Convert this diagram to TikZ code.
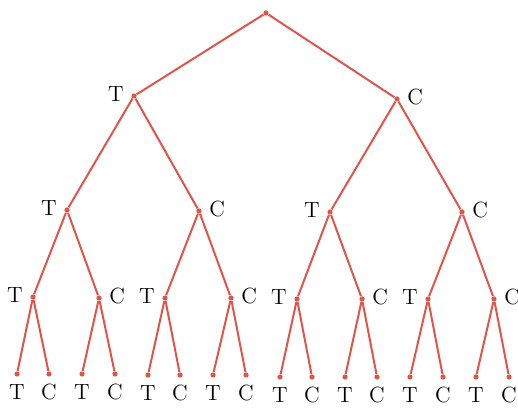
\documentclass[tikz,border=0pt]{standalone}
\usepackage{tikz}
\usetikzlibrary{positioning}
\definecolor{treered}{RGB}{224,84,74}

\begin{document}
\begin{tikzpicture}[
    x=0.5pt, y=-0.5pt,
    dot/.style={circle, fill=treered, inner sep=0pt, minimum size=2.6pt},
    edge/.style={draw=treered, line width=1pt},
    every label/.style={font=\fontsize{11}{13}\selectfont, inner sep=3.5pt},
]
    \useasboundingbox (0,0) rectangle (518,410);

    % Root
    \node[dot] (r) at (266,13) {};

    % First toss
    \node[dot, label={[yshift=1pt]left:T}]  (t) at (134,96) {};
    \node[dot, label={[yshift=1pt]right:C}] (c) at (397,99) {};

    % Second toss
    \node[dot, label={[yshift=1pt]left:T}]  (tt) at (67,210) {};
    \node[dot, label={[yshift=1pt]right:C}] (tc) at (199,211) {};
    \node[dot, label={[yshift=1pt]left:T}]  (ct) at (330,212) {};
    \node[dot, label={[yshift=1pt]right:C}] (cc) at (462,212) {};

    % Third toss
    \node[dot, label={[yshift=1pt]left:T}]  (ttt) at (33,297) {};
    \node[dot, label={[yshift=1pt]right:C}] (ttc) at (99,298) {};
    \node[dot, label={[yshift=1pt]left:T}]  (tct) at (165,298) {};
    \node[dot, label={[yshift=1pt]right:C}] (tcc) at (231,298) {};
    \node[dot, label={[yshift=1pt]left:T}]  (ctt) at (297,299) {};
    \node[dot, label={[yshift=1pt]right:C}] (ctc) at (362,299) {};
    \node[dot, label={[yshift=1pt]left:T}]  (cct) at (428,299) {};
    \node[dot, label={[yshift=1pt]right:C}] (ccc) at (494,299) {};

    % Fourth toss (leaves)
    \node[dot, label=below:T] (tttt) at (17,374) {};
    \node[dot, label=below:C] (tttc) at (49,374) {};
    \node[dot, label=below:T] (ttct) at (82,374) {};
    \node[dot, label=below:C] (ttcc) at (115,374) {};
    \node[dot, label=below:T] (tctt) at (148,375) {};
    \node[dot, label=below:C] (tctc) at (180,375) {};
    \node[dot, label=below:T] (tcct) at (213,375) {};
    \node[dot, label=below:C] (tccc) at (246,375) {};
    \node[dot, label=below:T] (cttt) at (280,377) {};
    \node[dot, label=below:C] (cttc) at (312,377) {};
    \node[dot, label=below:T] (ctct) at (345,377) {};
    \node[dot, label=below:C] (ctcc) at (377,377) {};
    \node[dot, label=below:T] (cctt) at (410,377) {};
    \node[dot, label=below:C] (cctc) at (443,377) {};
    \node[dot, label=below:T] (ccct) at (476,377) {};
    \node[dot, label=below:C] (cccc) at (509,377) {};

    % Branches
    \foreach \a in {t, c} {
        \draw[edge] (r) -- (\a);
        \foreach \b in {t, c} {
            \draw[edge] (\a) -- (\a\b);
            \foreach \d in {t, c} {
                \draw[edge] (\a\b) -- (\a\b\d);
                \foreach \e in {t, c} {
                    \draw[edge] (\a\b\d) -- (\a\b\d\e);
                }
            }
        }
    }
\end{tikzpicture}
\end{document}
